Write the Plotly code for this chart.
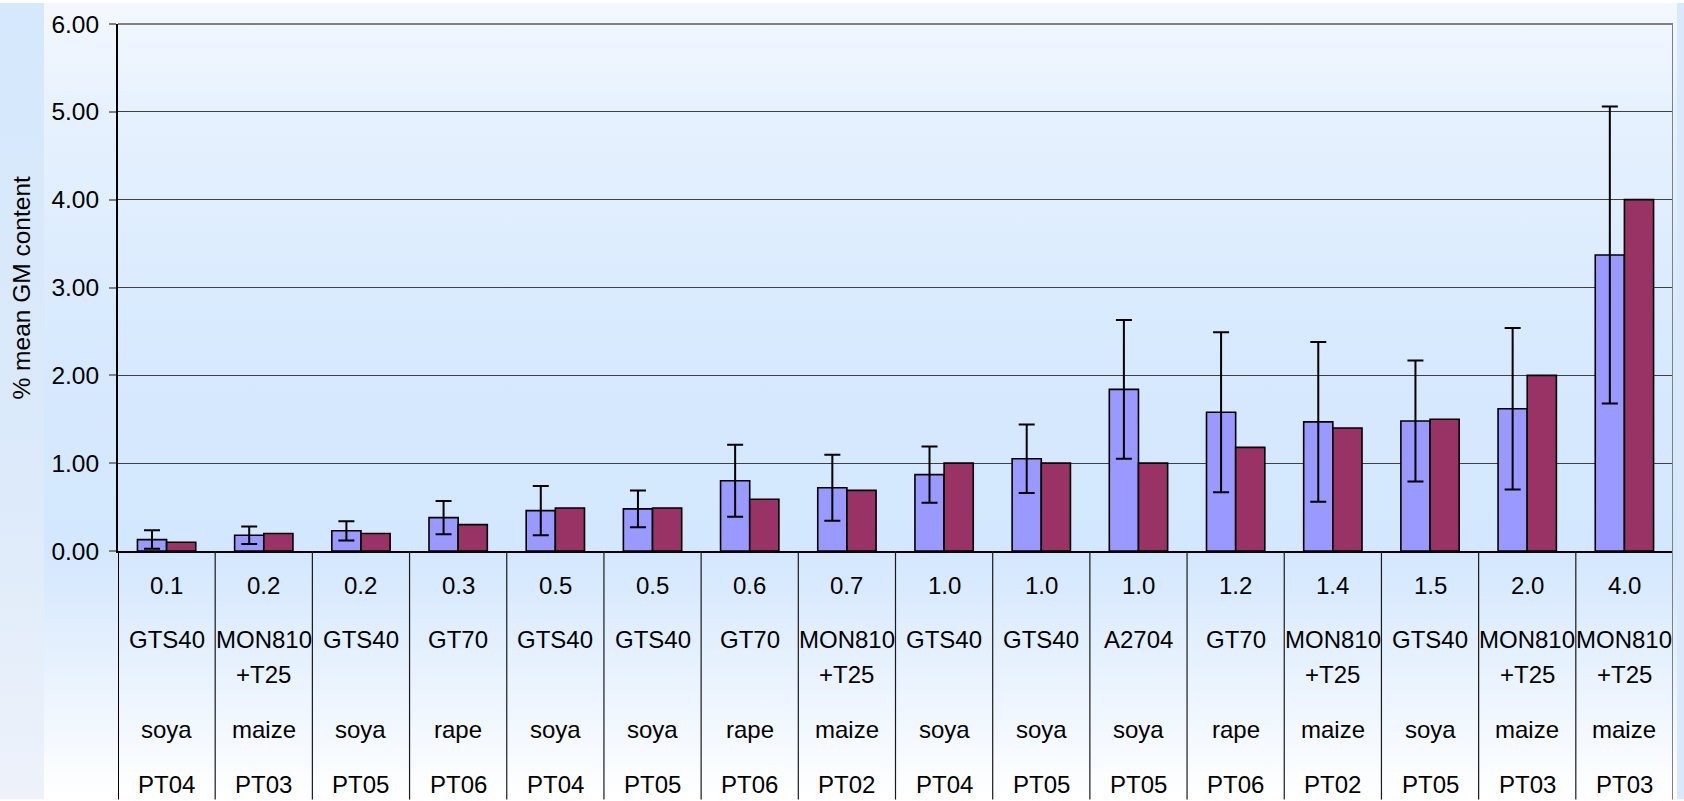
import base64
import plotly.graph_objects as go

# ---------------- data ----------------
nominal = ["0.1", "0.2", "0.2", "0.3", "0.5", "0.5", "0.6", "0.7",
           "1.0", "1.0", "1.0", "1.2", "1.4", "1.5", "2.0", "4.0"]
events = ["GTS40", "MON810\n+T25", "GTS40", "GT70", "GTS40", "GTS40", "GT70", "MON810\n+T25",
          "GTS40", "GTS40", "A2704", "GT70", "MON810\n+T25", "GTS40", "MON810\n+T25", "MON810\n+T25"]
crops = ["soya", "maize", "soya", "rape", "soya", "soya", "rape", "maize",
         "soya", "soya", "soya", "rape", "maize", "soya", "maize", "maize"]
rounds = ["PT04", "PT03", "PT05", "PT06", "PT04", "PT05", "PT06", "PT02",
          "PT04", "PT05", "PT05", "PT06", "PT02", "PT05", "PT03", "PT03"]
mean_measured = [0.13, 0.18, 0.23, 0.38, 0.46, 0.48, 0.80, 0.72,
                 0.87, 1.05, 1.84, 1.58, 1.47, 1.48, 1.62, 3.37]
error_sd = [0.105, 0.10, 0.11, 0.19, 0.28, 0.21, 0.41, 0.375,
            0.32, 0.39, 0.79, 0.91, 0.91, 0.69, 0.92, 1.69]
assigned = [0.1, 0.2, 0.2, 0.3, 0.49, 0.49, 0.59, 0.69,
            1.0, 1.0, 1.0, 1.18, 1.4, 1.5, 2.0, 4.0]
y_ticks = [0, 1, 2, 3, 4, 5, 6]

# ---------------- geometry ----------------
W, H = 1684, 801
ML, MR, MT, MB = 118, 11, 21, 250
PW, PH = W - ML - MR, H - MT - MB
FONT = "Liberation Sans, Arial, sans-serif"


def py(ypx):
    return (H - MB - ypx) / PH


def px(xpx):
    return (xpx - ML) / PW


# ---------------- background gradient (svg) ----------------
svg = f'''<svg xmlns="http://www.w3.org/2000/svg" width="{W}" height="{H}" viewBox="0 0 {W} {H}" preserveAspectRatio="none">
<defs>
<linearGradient id="m" x1="0" y1="0" x2="0" y2="1">
<stop offset="0" stop-color="#F4F8FE"/>
<stop offset="0.14" stop-color="#E6F1FE"/>
<stop offset="0.45" stop-color="#D6E9FE"/>
<stop offset="0.69" stop-color="#D3E7FE"/>
<stop offset="0.85" stop-color="#EAF3FE"/>
<stop offset="1" stop-color="#FFFFFF"/>
</linearGradient>
<linearGradient id="s" x1="0" y1="0" x2="0" y2="1">
<stop offset="0" stop-color="#D5E8FC"/>
<stop offset="0.6" stop-color="#DCEAFA"/>
<stop offset="1" stop-color="#EEF2FA"/>
</linearGradient>
</defs>
<rect x="0" y="0" width="{W}" height="{H}" fill="url(#m)"/>
<rect x="0" y="0" width="44" height="{H}" fill="url(#s)"/>
<rect x="1677" y="0" width="{W-1677}" height="{H}" fill="#D9E9FB"/>
</svg>'''
src = "data:image/svg+xml;base64," + base64.b64encode(svg.encode()).decode()

n = len(nominal)
xs = list(range(n))

fig = go.Figure()
fig.add_trace(go.Bar(
    x=xs, y=mean_measured, name="mean",
    marker=dict(color="#9999FF", line=dict(color="#000000", width=1.6)),
    error_y=dict(type="data", array=error_sd, symmetric=True,
                 color="#000000", thickness=2, width=8),
))
fig.add_trace(go.Bar(
    x=xs, y=assigned, name="assigned",
    marker=dict(color="#993366", line=dict(color="#000000", width=1.6)),
))

shapes = []
bottom = py(H)
for i in range(n + 1):
    xv = i - 0.5
    if i == 0:
        col, wd = "#000000", 2
    elif i == n:
        col, wd = "#808080", 2
    else:
        col, wd = "#1a1a1a", 1.2
    shapes.append(dict(type="line", xref="x", yref="paper", x0=xv, x1=xv,
                       y0=0 if i < n else 1, y1=bottom, line=dict(color=col, width=wd)))
# top border of plot area
shapes.append(dict(type="line", xref="paper", yref="paper", x0=0, x1=1, y0=1, y1=1,
                   line=dict(color="#808080", width=2)))

annotations = []
row_val, row_ev1, row_ev2, row_crop, row_pt = 586, 640, 675, 731, 786
for i in range(n):
    annotations.append(dict(x=i, y=py(row_val), xref="x", yref="paper", text=nominal[i],
                            showarrow=False, yanchor="middle", xanchor="center"))
    lines = events[i].split("\n")
    for j, ln in enumerate(lines):
        annotations.append(dict(x=i, y=py(row_ev1 if j == 0 else row_ev2), xref="x", yref="paper",
                                text=ln, showarrow=False, yanchor="middle", xanchor="center"))
    annotations.append(dict(x=i, y=py(row_crop), xref="x", yref="paper", text=crops[i],
                            showarrow=False, yanchor="middle", xanchor="center"))
    annotations.append(dict(x=i, y=py(row_pt), xref="x", yref="paper", text=rounds[i],
                            showarrow=False, yanchor="middle", xanchor="center"))
annotations.append(dict(x=px(21), y=py(286), xref="paper", yref="paper",
                        text="% mean GM content", textangle=-90, showarrow=False,
                        xanchor="center", yanchor="middle", font=dict(size=24.5)))

fig.update_layout(
    width=W, height=H,
    margin=dict(l=ML, r=MR, t=MT, b=MB, pad=0),
    paper_bgcolor="#FFFFFF",
    plot_bgcolor="rgba(0,0,0,0)",
    font=dict(family=FONT, size=24, color="#000000"),
    barmode="group", bargap=0.40, bargroupgap=0,
    showlegend=False,
    images=[dict(source=src, xref="paper", yref="paper", x=px(0), y=py(0),
                 sizex=W / PW, sizey=H / PH, sizing="stretch", layer="below",
                 xanchor="left", yanchor="top")],
    shapes=shapes,
    annotations=annotations,
    xaxis=dict(range=[-0.5, n - 0.5], showticklabels=False, ticks="",
               showgrid=False, zeroline=False, showline=True,
               linecolor="#000000", linewidth=2),
    yaxis=dict(range=[0, 6], tickvals=y_ticks,
               ticktext=[f"{v:.2f}" for v in y_ticks],
               showgrid=True, gridcolor="#404040", gridwidth=1,
               zeroline=False, showline=True, linecolor="#000000", linewidth=2,
               ticks="outside", ticklen=7, tickcolor="#808080", tickwidth=2,
               ticklabelstandoff=5,
               tickfont=dict(size=24.5)),
)

fig.write_html("out.html", config={"displayModeBar": False},
               post_script="document.body.style.margin='0';document.body.style.overflow='hidden';")
